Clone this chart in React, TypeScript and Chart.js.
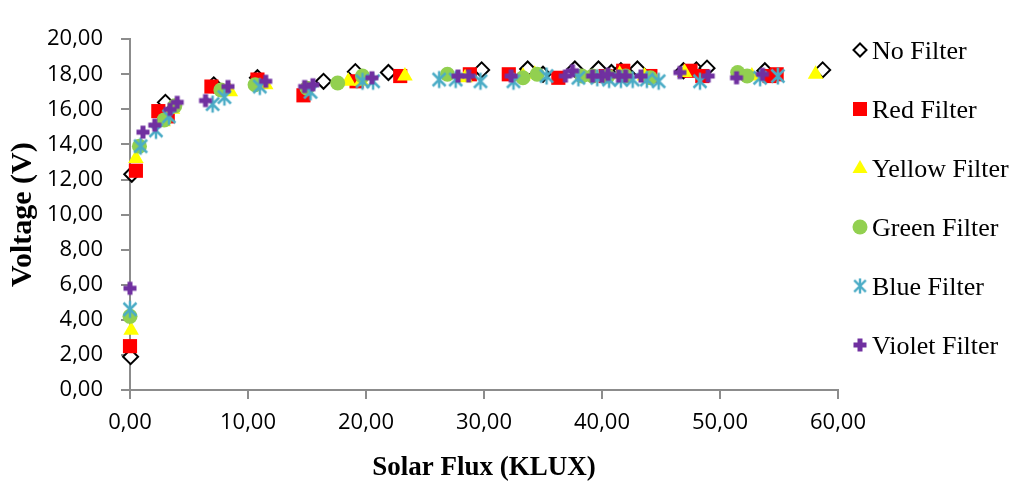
import React, { useEffect, useRef } from 'react';
import { Chart, registerables } from 'chart.js';

Chart.register(...registerables);

const seriesNames = ['No Filter', 'Red Filter', 'Yellow Filter', 'Green Filter', 'Blue Filter', 'Violet Filter'];

const xTicks = [0, 10, 20, 30, 40, 50, 60];
const yTicks = [0, 2, 4, 6, 8, 10, 12, 14, 16, 18, 20];

const noFilterX = [0.05, 0.15, 3.0, 7.1, 10.8, 16.4, 19.1, 21.9, 29.8, 33.7, 35.0, 37.7, 39.7, 40.8, 41.6, 43.0, 46.9, 48.0, 48.9, 53.8, 58.7];
const noFilterY = [1.9, 12.3, 16.4, 17.4, 17.8, 17.6, 18.15, 18.1, 18.25, 18.3, 18.0, 18.3, 18.3, 18.1, 18.2, 18.3, 18.2, 18.25, 18.35, 18.2, 18.25];

const redX = [0.0, 0.5, 2.4, 3.2, 6.9, 10.8, 14.7, 19.2, 22.9, 28.8, 32.1, 36.3, 40.3, 41.8, 44.1, 47.5, 48.5, 54.2, 54.8];
const redY = [2.5, 12.5, 15.9, 15.6, 17.3, 17.7, 16.8, 17.6, 17.9, 18.0, 18.0, 17.8, 17.9, 18.2, 17.9, 18.2, 17.9, 17.9, 18.0];

const yellowX = [0.1, 0.5, 2.8, 3.6, 8.5, 11.5, 18.5, 19.6, 23.3, 28.4, 33.3, 34.3, 41.5, 43.6, 47.0, 52.7, 58.1];
const yellowY = [3.4, 13.2, 15.3, 16.0, 17.0, 17.4, 17.6, 17.6, 17.9, 17.8, 17.9, 18.0, 18.0, 17.9, 18.1, 17.9, 18.0];

const greenX = [0.0, 0.8, 2.9, 3.8, 7.7, 10.6, 15.0, 17.6, 19.7, 26.9, 33.3, 34.5, 38.3, 39.2, 40.5, 42.0, 44.1, 51.5, 52.3];
const greenY = [4.2, 13.9, 15.4, 16.2, 17.1, 17.4, 17.2, 17.5, 17.9, 18.0, 17.8, 18.0, 17.9, 17.9, 17.9, 17.9, 17.8, 18.1, 17.9];

const blueX = [0.0, 0.9, 2.2, 3.3, 7.0, 8.0, 11.0, 15.3, 19.7, 20.6, 26.2, 27.6, 29.7, 32.5, 35.3, 38.0, 39.6, 40.6, 41.6, 42.6, 43.8, 44.8, 48.3, 53.4, 54.9];
const blueY = [4.6, 13.9, 14.8, 15.6, 16.3, 16.7, 17.3, 17.0, 17.6, 17.6, 17.7, 17.7, 17.6, 17.6, 17.9, 17.8, 17.8, 17.7, 17.7, 17.7, 17.7, 17.6, 17.6, 17.8, 17.9];

const violetX = [0.0, 1.1, 2.1, 3.4, 4.0, 6.4, 8.3, 11.5, 14.8, 15.5, 20.5, 27.8, 28.7, 32.3, 36.9, 37.5, 39.2, 40.0, 40.5, 41.4, 42.0, 43.3, 46.6, 49.0, 51.4, 53.6];
const violetY = [5.8, 14.7, 15.1, 16.0, 16.4, 16.5, 17.3, 17.6, 17.3, 17.4, 17.8, 17.9, 17.9, 17.9, 17.9, 18.2, 17.9, 17.9, 18.0, 17.9, 17.9, 17.9, 18.1, 17.9, 17.8, 18.0];

const seriesX = [noFilterX, redX, yellowX, greenX, blueX, violetX];
const seriesY = [noFilterY, redY, yellowY, greenY, blueY, violetY];

const AXIS_GRAY = '#8c8c8c';
const fmt = (v: number) => v.toFixed(2).replace('.', ',');

function makeAsterisk(): HTMLCanvasElement {
  const c = document.createElement('canvas');
  c.width = 20;
  c.height = 20;
  const g = c.getContext('2d')!;
  g.strokeStyle = '#4BACC6';
  g.lineWidth = 2.5;
  g.beginPath();
  g.moveTo(10, 1.5);
  g.lineTo(10, 18.5);
  g.moveTo(3.5, 3.5);
  g.lineTo(16.5, 16.5);
  g.moveTo(16.5, 3.5);
  g.lineTo(3.5, 16.5);
  g.stroke();
  return c;
}

function makePlus(): HTMLCanvasElement {
  const c = document.createElement('canvas');
  c.width = 16;
  c.height = 16;
  const g = c.getContext('2d')!;
  g.fillStyle = '#7030A0';
  g.fillRect(5.5, 1.5, 5, 13);
  g.fillRect(1.5, 5.5, 13, 5);
  return c;
}

export default function App() {
  const ref = useRef<HTMLCanvasElement | null>(null);

  useEffect(() => {
    if (!ref.current) return;
    document.body.style.margin = '8px 8px 0 8px';
    document.body.style.overflow = 'hidden';
    const asterisk = makeAsterisk();
    const plus = makePlus();

    const styles: any[] = [
      { pointStyle: 'rectRot', radius: 7.5, backgroundColor: '#ffffff', borderColor: '#000000', borderWidth: 2 },
      { pointStyle: 'rect', radius: 10, backgroundColor: '#ff0000', borderColor: '#ff0000', borderWidth: 0 },
      { pointStyle: 'triangle', radius: 9, backgroundColor: '#ffff00', borderColor: '#ffff00', borderWidth: 0 },
      { pointStyle: 'circle', radius: 7.5, backgroundColor: '#92D050', borderColor: '#92D050', borderWidth: 0 },
      { pointStyle: asterisk, radius: 10, backgroundColor: '#4BACC6', borderColor: '#4BACC6', borderWidth: 0 },
      { pointStyle: plus, radius: 8, backgroundColor: '#7030A0', borderColor: '#7030A0', borderWidth: 0 },
    ];

    const datasets = seriesNames.map((name, i) => ({
      label: name,
      data: seriesX[i].map((x, j) => ({ x, y: seriesY[i][j] })),
      showLine: false,
      clip: false,
      order: 5 - i,
      pointStyle: styles[i].pointStyle,
      pointRadius: styles[i].radius,
      pointHoverRadius: styles[i].radius,
      pointBackgroundColor: styles[i].backgroundColor,
      pointBorderColor: styles[i].borderColor,
      pointBorderWidth: styles[i].borderWidth,
      backgroundColor: styles[i].backgroundColor,
      borderColor: styles[i].borderColor,
    }));

    const legendPlugin = {
      id: 'customLegend',
      afterDraw(chart: any) {
        const ctx = chart.ctx as CanvasRenderingContext2D;
        const mx = 852;
        const tx = 864;
        const ys = [42, 101, 160, 219, 278, 337];
        ctx.save();
        ctx.font = '26px "Liberation Serif", "Times New Roman", serif';
        ctx.textBaseline = 'alphabetic';
        ctx.textAlign = 'left';
        seriesNames.forEach((name, i) => {
          const y = ys[i];
          ctx.beginPath();
          if (i === 0) {
            ctx.moveTo(mx, y - 6.5);
            ctx.lineTo(mx + 6.5, y);
            ctx.lineTo(mx, y + 6.5);
            ctx.lineTo(mx - 6.5, y);
            ctx.closePath();
            ctx.fillStyle = '#fff';
            ctx.fill();
            ctx.lineWidth = 2;
            ctx.strokeStyle = '#000';
            ctx.stroke();
          } else if (i === 1) {
            ctx.fillStyle = '#ff0000';
            ctx.fillRect(mx - 7, y - 7, 14, 14);
          } else if (i === 2) {
            ctx.moveTo(mx, y - 8);
            ctx.lineTo(mx + 7.5, y + 5);
            ctx.lineTo(mx - 7.5, y + 5);
            ctx.closePath();
            ctx.fillStyle = '#ffff00';
            ctx.fill();
          } else if (i === 3) {
            ctx.arc(mx, y, 7.5, 0, Math.PI * 2);
            ctx.fillStyle = '#92D050';
            ctx.fill();
          } else if (i === 4) {
            ctx.drawImage(asterisk, mx - 9, y - 9, 18, 18);
          } else {
            ctx.drawImage(plus, mx - 8, y - 8);
          }
          ctx.fillStyle = '#000';
          ctx.fillText(name, tx, y + 9);
        });
        ctx.restore();
      },
    };

    const tickFont = { family: '"Open Sans", sans-serif', size: 22 };
    const titleFontBold = { family: '"Liberation Serif", "Times New Roman", serif', weight: 'bold' as const };

    const chart = new Chart(ref.current, {
      type: 'scatter',
      data: { datasets },
      plugins: [legendPlugin],
      options: {
        animation: false,
        responsive: false,
        maintainAspectRatio: false,
        layout: { padding: { top: 14, right: 173, left: 0, bottom: 0 } },
        plugins: {
          legend: { display: false },
          tooltip: { enabled: false },
        },
        scales: {
          x: {
            type: 'linear',
            min: 0,
            max: 60,
            afterBuildTicks: (s: any) => { s.ticks = xTicks.map((v) => ({ value: v })); },
            afterFit: (s: any) => { s.height = 92; },
            ticks: { callback: (v: any) => fmt(Number(v)), font: tickFont, color: '#000', padding: 11, maxRotation: 0, autoSkip: false },
            grid: { display: true, drawOnChartArea: false, drawTicks: true, tickLength: 9, color: AXIS_GRAY, lineWidth: 2 },
            border: { display: true, color: AXIS_GRAY, width: 2 },
            title: {
              display: true,
              text: 'Solar Flux (KLUX)',
              color: '#000',
              font: { ...titleFontBold, size: 27, lineHeight: 1 },
              padding: 0,
            },
          },
          y: {
            type: 'linear',
            min: 0,
            max: 20,
            afterBuildTicks: (s: any) => { s.ticks = yTicks.map((v) => ({ value: v })); },
            afterFit: (s: any) => { s.width = 122; },
            ticks: { callback: (v: any) => fmt(Number(v)), font: tickFont, color: '#000', padding: 18, autoSkip: false },
            grid: { display: true, drawOnChartArea: false, drawTicks: true, tickLength: 9, color: AXIS_GRAY, lineWidth: 2 },
            border: { display: true, color: AXIS_GRAY, width: 2 },
            title: {
              display: true,
              text: 'Voltage (V)',
              color: '#000',
              font: { ...titleFontBold, size: 30, lineHeight: 1 },
              padding: 0,
            },
          },
        },
      } as any,
    });
    return () => chart.destroy();
  }, []);

  return (
    <div style={{ width: 1003, height: 474 }}>
      <canvas ref={ref} width={1003} height={474} style={{ display: 'block', width: 1003, height: 474 }} />
    </div>
  );
}
